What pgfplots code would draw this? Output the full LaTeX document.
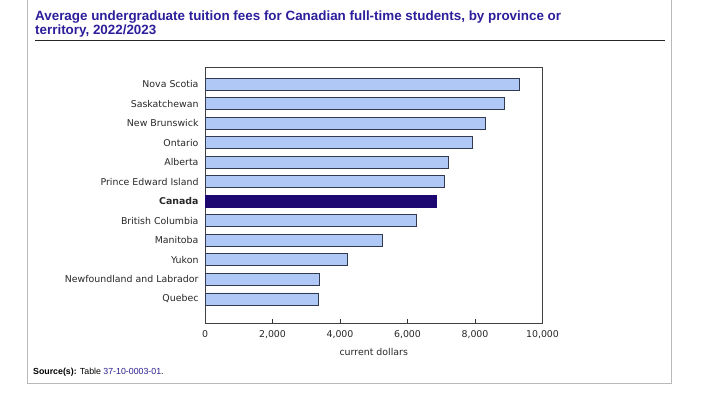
\documentclass[border=0pt]{standalone}
\usepackage{fontspec}
\setmainfont{DejaVu Sans}
\newfontfamily\arial{Liberation Sans}
\usepackage{pgfplots}
\usepackage{pgfplotstable}
\pgfplotsset{compat=1.18}
\definecolor{titleblue}{RGB}{45,30,155}
\definecolor{barlight}{RGB}{175,200,245}
\definecolor{bardark}{RGB}{28,8,112}
\definecolor{baredge}{RGB}{50,58,80}
\definecolor{linkblue}{RGB}{40,30,140}
\definecolor{txtgray}{RGB}{40,40,40}
\pgfplotstableread{
idx value
0 9330
1 8860
2 8300
3 7920
4 7220
5 7090
7 6265
8 5255
9 4210
10 3400
11 3360
}\provinces
\pgfplotstableread{
idx value
6 6845
}\canada
\begin{document}
\begin{tikzpicture}[x=1pt,y=1pt]
\useasboundingbox (0,0) rectangle (712,394);
\fill[white] (0,0) rectangle (712,394);
\draw[gray!55, line width=1pt] (27,394) -- (27,11) -- (671,11) -- (671,394);
\node[anchor=base west, text=titleblue, font=\arial\bfseries\fontsize{13.4}{15}\selectfont, inner sep=0] at (35,373) {Average undergraduate tuition fees for Canadian full-time students, by province or};
\node[anchor=base west, text=titleblue, font=\arial\bfseries\fontsize{13.4}{15}\selectfont, inner sep=0] at (35,359.5) {territory, 2022/2023};
\draw[line width=1.4pt, black!85] (35,353.5) -- (665,353.5);
\node[anchor=base west, font=\arial\fontsize{8.8}{10}\selectfont, inner sep=0] at (33,20) {\textbf{Source(s):} Table \textcolor{linkblue}{37-10-0003-01}.};
\begin{axis}[
  at={(205pt,71pt)}, anchor=south west,
  width=337.5pt, height=256pt, scale only axis,
  xbar, bar width=12pt,
  xmin=0, xmax=10000,
  ymin=-0.87, ymax=12.23, y dir=reverse,
  ytick={0,...,11},
  yticklabels={Nova Scotia,Saskatchewan,New Brunswick,Ontario,Alberta,Prince Edward Island,{\textbf{Canada}},British Columbia,Manitoba,Yukon,Newfoundland and Labrador,Quebec},
  y tick style={draw=none},
  xtick={0,2000,4000,6000,8000,10000},
  x tick style={black!80, line width=0.8pt},
  tick align=inside, major tick length=4pt,
  xtick pos=bottom,
  /pgf/number format/assume math mode=true,
  /pgf/number format/1000 sep={,},
  scaled x ticks=false,
  tick label style={font=\fontsize{9.4}{11}\selectfont, text=txtgray},
  yticklabel style={xshift=-3pt},
  xticklabel style={yshift=-4pt},
  xlabel={current dollars},
  xlabel style={font=\fontsize{9.4}{11}\selectfont, text=txtgray, yshift=-3pt},
  axis line style={black!75, line width=0.9pt},
  clip=false,
]
\addplot[fill=barlight, draw=baredge, line width=0.9pt, bar shift=0pt] table[x=value, y=idx] {\provinces};
\addplot[fill=bardark, draw=bardark, line width=0.9pt, bar shift=0pt] table[x=value, y=idx] {\canada};
\end{axis}
\end{tikzpicture}
\end{document}
